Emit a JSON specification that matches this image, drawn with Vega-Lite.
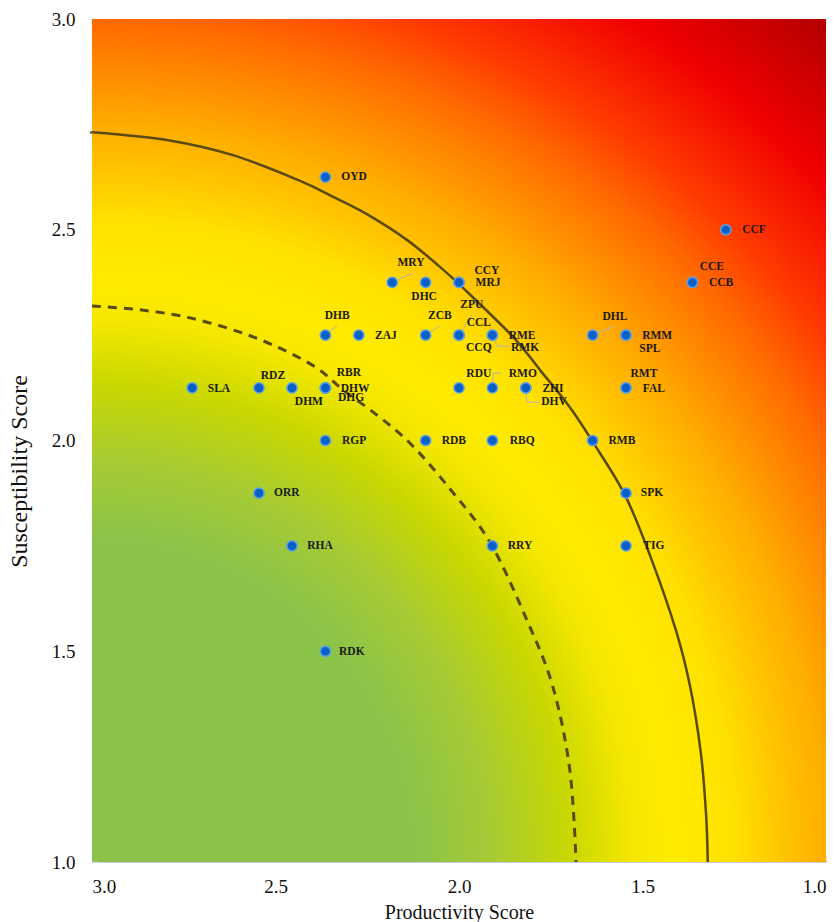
{
  "$schema": "https://vega.github.io/schema/vega-lite/v6.json",
  "width": 734,
  "height": 843,
  "autosize": {"type": "none"},
  "padding": {"left": 92, "top": 19, "right": 13, "bottom": 60},
  "background": "white",
  "config": {"view": {"stroke": null}},
  "datasets": {
    "species": [
      {"code": "OYD", "p": 2.364, "s": 2.625, "lx": 2.286, "ly": 2.625},
      {"code": "CCF", "p": 1.273, "s": 2.5, "lx": 1.196, "ly": 2.499},
      {"code": "MRY", "p": 2.182, "s": 2.375, "lx": 2.131, "ly": 2.421},
      {"code": "DHC", "p": 2.091, "s": 2.375, "lx": 2.095, "ly": 2.340},
      {"code": "CCY", "p": 2.0, "s": 2.375, "lx": 1.924, "ly": 2.402},
      {"code": "MRJ", "p": 2.0, "s": 2.375, "lx": 1.921, "ly": 2.374},
      {"code": "CCE", "p": 1.364, "s": 2.375, "lx": 1.311, "ly": 2.412},
      {"code": "CCB", "p": 1.364, "s": 2.375, "lx": 1.286, "ly": 2.374},
      {"code": "DHB", "p": 2.364, "s": 2.25, "lx": 2.332, "ly": 2.295},
      {"code": "ZAJ", "p": 2.273, "s": 2.25, "lx": 2.199, "ly": 2.248},
      {"code": "ZCB", "p": 2.091, "s": 2.25, "lx": 2.052, "ly": 2.295},
      {"code": "ZPU", "p": 2.0, "s": 2.25, "lx": 1.965, "ly": 2.321},
      {"code": "CCL", "p": 2.0, "s": 2.25, "lx": 1.946, "ly": 2.279},
      {"code": "CCQ", "p": 2.0, "s": 2.25, "lx": 1.946, "ly": 2.219},
      {"code": "RME", "p": 1.909, "s": 2.25, "lx": 1.828, "ly": 2.248},
      {"code": "RMK", "p": 1.909, "s": 2.25, "lx": 1.820, "ly": 2.219},
      {"code": "DHL", "p": 1.636, "s": 2.25, "lx": 1.575, "ly": 2.293},
      {"code": "RMM", "p": 1.545, "s": 2.25, "lx": 1.460, "ly": 2.248},
      {"code": "SPL", "p": 1.545, "s": 2.25, "lx": 1.480, "ly": 2.217},
      {"code": "SLA", "p": 2.727, "s": 2.125, "lx": 2.654, "ly": 2.122},
      {"code": "RDZ", "p": 2.545, "s": 2.125, "lx": 2.507, "ly": 2.153},
      {"code": "DHM", "p": 2.455, "s": 2.125, "lx": 2.409, "ly": 2.091},
      {"code": "RBR", "p": 2.364, "s": 2.125, "lx": 2.300, "ly": 2.160},
      {"code": "DHW", "p": 2.364, "s": 2.125, "lx": 2.283, "ly": 2.122},
      {"code": "DHG", "p": 2.364, "s": 2.125, "lx": 2.294, "ly": 2.101},
      {"code": "RDU", "p": 2.0, "s": 2.125, "lx": 1.946, "ly": 2.158},
      {"code": "RMO", "p": 1.909, "s": 2.125, "lx": 1.826, "ly": 2.158},
      {"code": "ZHI", "p": 1.818, "s": 2.125, "lx": 1.744, "ly": 2.122},
      {"code": "DHV", "p": 1.818, "s": 2.125, "lx": 1.741, "ly": 2.091},
      {"code": "RMT", "p": 1.545, "s": 2.125, "lx": 1.496, "ly": 2.158},
      {"code": "FAL", "p": 1.545, "s": 2.125, "lx": 1.469, "ly": 2.122},
      {"code": "RGP", "p": 2.364, "s": 2.0, "lx": 2.286, "ly": 1.999},
      {"code": "RDB", "p": 2.091, "s": 2.0, "lx": 2.014, "ly": 1.999},
      {"code": "RBQ", "p": 1.909, "s": 2.0, "lx": 1.828, "ly": 1.999},
      {"code": "RMB", "p": 1.636, "s": 2.0, "lx": 1.556, "ly": 1.999},
      {"code": "ORR", "p": 2.545, "s": 1.875, "lx": 2.469, "ly": 1.875},
      {"code": "SPK", "p": 1.545, "s": 1.875, "lx": 1.474, "ly": 1.875},
      {"code": "RHA", "p": 2.455, "s": 1.75, "lx": 2.379, "ly": 1.75},
      {"code": "RRY", "p": 1.909, "s": 1.75, "lx": 1.834, "ly": 1.75},
      {"code": "TIG", "p": 1.545, "s": 1.75, "lx": 1.469, "ly": 1.75},
      {"code": "RDK", "p": 2.364, "s": 1.5, "lx": 2.292, "ly": 1.498}
    ],
    "curves": [
      {"curve": "outer", "i": 0, "p": 3.0, "s": 2.730},
      {"curve": "outer", "i": 1, "p": 2.978, "s": 2.730},
      {"curve": "outer", "i": 2, "p": 2.796, "s": 2.713},
      {"curve": "outer", "i": 3, "p": 2.616, "s": 2.677},
      {"curve": "outer", "i": 4, "p": 2.433, "s": 2.616},
      {"curve": "outer", "i": 5, "p": 2.343, "s": 2.578},
      {"curve": "outer", "i": 6, "p": 2.251, "s": 2.537},
      {"curve": "outer", "i": 7, "p": 2.142, "s": 2.476},
      {"curve": "outer", "i": 8, "p": 2.052, "s": 2.412},
      {"curve": "outer", "i": 9, "p": 1.989, "s": 2.362},
      {"curve": "outer", "i": 10, "p": 1.853, "s": 2.246},
      {"curve": "outer", "i": 11, "p": 1.779, "s": 2.167},
      {"curve": "outer", "i": 12, "p": 1.698, "s": 2.079},
      {"curve": "outer", "i": 13, "p": 1.635, "s": 1.996},
      {"curve": "outer", "i": 14, "p": 1.548, "s": 1.871},
      {"curve": "outer", "i": 15, "p": 1.478, "s": 1.724},
      {"curve": "outer", "i": 16, "p": 1.409, "s": 1.550},
      {"curve": "outer", "i": 17, "p": 1.370, "s": 1.415},
      {"curve": "outer", "i": 18, "p": 1.341, "s": 1.259},
      {"curve": "outer", "i": 19, "p": 1.327, "s": 1.116},
      {"curve": "outer", "i": 20, "p": 1.322, "s": 1.0},
      {"curve": "inner", "i": 0, "p": 3.0, "s": 2.319},
      {"curve": "inner", "i": 1, "p": 2.869, "s": 2.310},
      {"curve": "inner", "i": 2, "p": 2.733, "s": 2.291},
      {"curve": "inner", "i": 3, "p": 2.597, "s": 2.257},
      {"curve": "inner", "i": 4, "p": 2.488, "s": 2.219},
      {"curve": "inner", "i": 5, "p": 2.387, "s": 2.172},
      {"curve": "inner", "i": 6, "p": 2.316, "s": 2.120},
      {"curve": "inner", "i": 7, "p": 2.223, "s": 2.060},
      {"curve": "inner", "i": 8, "p": 2.134, "s": 1.994},
      {"curve": "inner", "i": 9, "p": 2.033, "s": 1.894},
      {"curve": "inner", "i": 10, "p": 1.916, "s": 1.759},
      {"curve": "inner", "i": 11, "p": 1.815, "s": 1.574},
      {"curve": "inner", "i": 12, "p": 1.744, "s": 1.415},
      {"curve": "inner", "i": 13, "p": 1.698, "s": 1.218},
      {"curve": "inner", "i": 14, "p": 1.681, "s": 1.0}
    ],
    "leaders": [
      {"id": "MRY", "i": 0, "p": 2.182, "s": 2.375},
      {"id": "MRY", "i": 1, "p": 2.128, "s": 2.397},
      {"id": "DHB", "i": 0, "p": 2.364, "s": 2.25},
      {"id": "DHB", "i": 1, "p": 2.332, "s": 2.272},
      {"id": "ZCB", "i": 0, "p": 2.091, "s": 2.25},
      {"id": "ZCB", "i": 1, "p": 2.052, "s": 2.272},
      {"id": "ZPU", "i": 0, "p": 2.0, "s": 2.25},
      {"id": "ZPU", "i": 1, "p": 1.965, "s": 2.298},
      {"id": "RMK", "i": 0, "p": 1.909, "s": 2.25},
      {"id": "RMK", "i": 1, "p": 1.896, "s": 2.224},
      {"id": "RMK", "i": 2, "p": 1.861, "s": 2.224},
      {"id": "DHL", "i": 0, "p": 1.636, "s": 2.25},
      {"id": "DHL", "i": 1, "p": 1.575, "s": 2.272},
      {"id": "RMO", "i": 0, "p": 1.909, "s": 2.125},
      {"id": "RMO", "i": 1, "p": 1.907, "s": 2.160},
      {"id": "RMO", "i": 2, "p": 1.883, "s": 2.160},
      {"id": "DHV", "i": 0, "p": 1.818, "s": 2.125},
      {"id": "DHV", "i": 1, "p": 1.815, "s": 2.091},
      {"id": "DHV", "i": 2, "p": 1.779, "s": 2.091}
    ]
  },
  "encoding": {
    "x": {
      "field": "p", "type": "quantitative",
      "scale": {"domain": [1, 3], "reverse": true, "nice": false, "zero": false},
      "axis": {
        "title": "Productivity Score", "values": [3, 2.5, 2, 1.5, 1], "format": ".1f",
        "grid": false, "domainColor": "#c8c8dc", "tickColor": "#e6e6e6", "tickSize": -6,
        "labelPadding": 21, "labelFont": "Liberation Serif", "labelFontSize": 19, "labelColor": "#111111",
        "titleFont": "Liberation Serif", "titleFontSize": 20, "titleFontWeight": "normal", "titleColor": "#111111",
        "titlePadding": 6
      }
    },
    "y": {
      "field": "s", "type": "quantitative",
      "scale": {"domain": [1, 3], "nice": false, "zero": false},
      "axis": {
        "title": "Susceptibility Score", "values": [1, 1.5, 2, 2.5, 3], "format": ".1f",
        "grid": false, "domainColor": "#c8c8dc", "tickColor": "#e6e6e6", "tickSize": -6,
        "labelPadding": 23, "labelFont": "Liberation Serif", "labelFontSize": 19, "labelColor": "#111111",
        "titleFont": "Liberation Serif", "titleFontSize": 24, "titleFontWeight": "normal", "titleColor": "#111111",
        "titlePadding": 20, "titleY": 452
      }
    }
  },
  "layer": [
    {
      "data": {"values": [{"p": 3, "p2": 1, "s": 1, "s2": 3}]},
      "mark": {
        "type": "rect",
        "fill": {
          "gradient": "radial",
          "x1": 0.0647, "y1": 1, "r1": 0,
          "x2": 0.0647, "y2": 1, "r2": 1.33,
          "stops": [
            {"offset": 0, "color": "#8bc34a"},
            {"offset": 0.29, "color": "#8cc349"},
            {"offset": 0.357, "color": "#a6cb33"},
            {"offset": 0.428, "color": "#cad800"},
            {"offset": 0.482, "color": "#f5e700"},
            {"offset": 0.517, "color": "#ffeb00"},
            {"offset": 0.571, "color": "#ffe200"},
            {"offset": 0.624, "color": "#ffc000"},
            {"offset": 0.655, "color": "#ffae00"},
            {"offset": 0.752, "color": "#ff6800"},
            {"offset": 0.803, "color": "#ff3a00"},
            {"offset": 0.892, "color": "#f00000"},
            {"offset": 1, "color": "#b00000"}
          ]
        }
      },
      "encoding": {
        "x2": {"field": "p2"},
        "y2": {"field": "s2"}
      }
    },
    {
      "data": {"name": "curves"},
      "transform": [{"filter": "datum.curve === 'outer'"}],
      "mark": {"type": "line", "color": "#5a4a14", "strokeWidth": 2.5, "interpolate": "cardinal"},
      "encoding": {"order": {"field": "i"}}
    },
    {
      "data": {"name": "curves"},
      "transform": [{"filter": "datum.curve === 'inner'"}],
      "mark": {"type": "line", "color": "#5a4a14", "strokeWidth": 3, "strokeDash": [9, 7], "interpolate": "cardinal"},
      "encoding": {"order": {"field": "i"}}
    },
    {
      "data": {"name": "leaders"},
      "mark": {"type": "line", "color": "#b4b4b4", "strokeWidth": 1},
      "encoding": {"order": {"field": "i"}, "detail": {"field": "id"}}
    },
    {
      "data": {"name": "species"},
      "mark": {"type": "circle", "size": 105, "fill": "#0b60c6", "fillOpacity": 1, "stroke": "#58a0ea", "strokeWidth": 1.5}
    },
    {
      "data": {"name": "species"},
      "mark": {"type": "text", "font": "Liberation Serif", "fontWeight": "bold", "fontSize": 11.5, "color": "#1a1a1a", "align": "center", "baseline": "middle"},
      "encoding": {
        "x": {"field": "lx", "type": "quantitative"},
        "y": {"field": "ly", "type": "quantitative"},
        "text": {"field": "code"}
      }
    }
  ]
}
